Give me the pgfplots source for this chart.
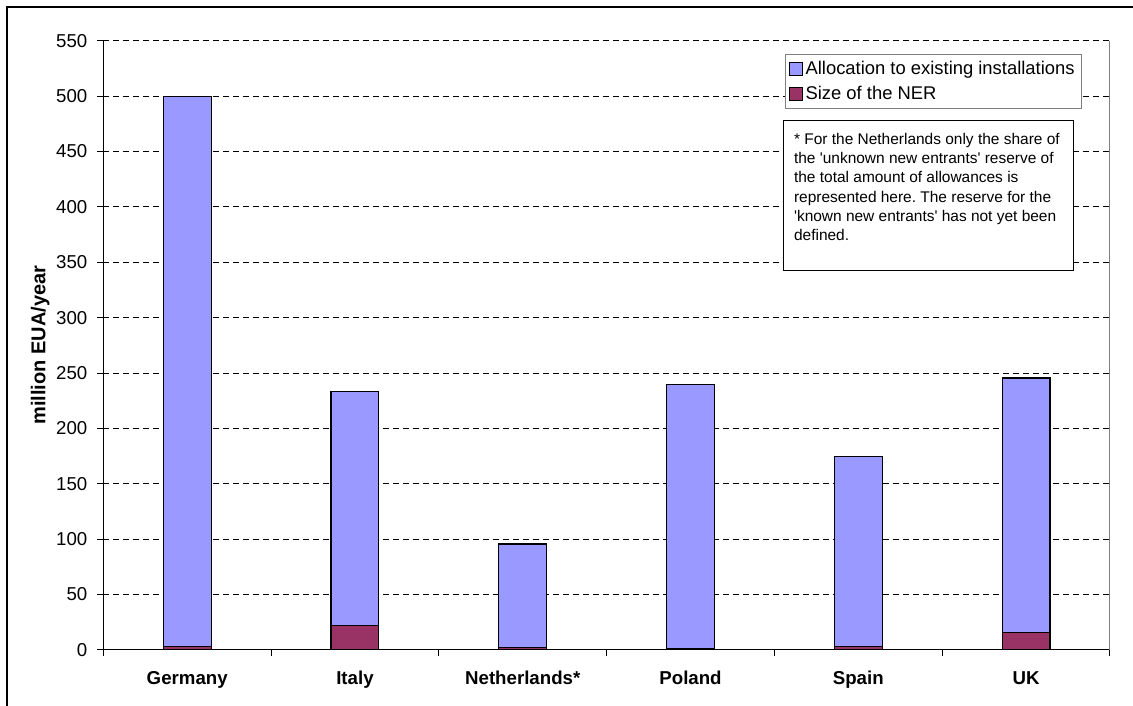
\documentclass[border=0pt]{standalone}
\usepackage{fontspec}
\setmainfont{Liberation Sans}
\newfontfamily\notefont{Liberation Sans}
\usepackage{pgfplots}
\pgfplotsset{compat=1.18}
\definecolor{alloc}{HTML}{9999FF}
\definecolor{ner}{HTML}{993366}
\frenchspacing

\begin{document}
\begin{tikzpicture}
\path[use as bounding box] (-77.5pt,-42pt) rectangle (772.3pt,487.5pt);
\draw[line width=1.5pt] (-72.6pt,-60pt) -- (-72.6pt,482.25pt) -- (800pt,482.25pt);
\begin{axis}[
    scale only axis,
    width=755pt, height=457pt,
    ybar stacked,
    bar width=0.285,
    xmin=0, xmax=6,
    ymin=0, ymax=550,
    ytick={0,50,...,550},
    xtick={0,...,6},
    xticklabels={},
    extra x ticks={0.5,1.5,2.5,3.5,4.5,5.5},
    extra x tick labels={Germany,Italy,Netherlands*,Poland,Spain,UK},
    extra x tick style={major tick length=0pt,
        xticklabel style={font=\bfseries\fontsize{14}{16}\selectfont, yshift=-12.5pt}},
    axis x line*=bottom,
    axis y line*=left,
    axis line style={line width=0.75pt},
    tick style={black, line width=0.75pt},
    tick align=outside,
    major tick length=4.5pt,
    ymajorgrids,
    grid style={black, line width=0.75pt, dash pattern=on 4pt off 3.5pt},
    /pgf/number format/assume math mode=true,
    yticklabel style={font=\fontsize{14}{16}\selectfont, xshift=-4pt},
    ylabel={million EUA/year},
    ylabel style={font=\bfseries\fontsize{15}{17}\selectfont, at={(rel axis cs:0,0.5)}, anchor=center, yshift=47.4pt},
    reverse legend,
    legend cell align=left,
    legend style={at={(0.972,0.978)}, anchor=north east, draw=gray, line width=0.75pt,
        font=\fontsize{13.8}{16}\selectfont, row sep=3.5pt, inner xsep=3pt, inner ysep=3pt},
    legend image code/.code={\draw[#1, draw=black, line width=0.6pt] (0pt,-4.9pt) rectangle (9.8pt,4.9pt);},
]
\addplot[fill=ner, draw=black, line width=0.9pt] coordinates {
    (0.5,3) (1.5,22) (2.5,2.5) (3.5,1.5) (4.5,3.3) (5.5,15.5)};
\addlegendentry{Size of the NER}
\addplot[fill=alloc, draw=black, line width=0.9pt] coordinates {
    (0.5,496.5) (1.5,211) (2.5,93.2) (3.5,237.9) (4.5,171) (5.5,229.9)};
\addlegendentry{Allocation to existing installations}
\draw[gray, line width=0.75pt] (rel axis cs:1,0) -- (rel axis cs:1,1);
\end{axis}
\node[draw=black, line width=0.75pt, fill=white, anchor=north west, inner sep=0pt,
    minimum width=217.5pt, minimum height=112.5pt] at (509.6pt,397.6pt) {};
\node[anchor=north west, inner sep=0pt, align=left,
    font=\notefont\fontsize{11.6}{14.5}\selectfont] at (517.9pt,388pt)
    {* For the Netherlands only the share of\\
     the 'unknown new entrants' reserve of\\
     the total amount of allowances is\\
     represented here. The reserve for the\\
     'known new entrants' has not yet been\\
     defined.};
\end{tikzpicture}
\end{document}
